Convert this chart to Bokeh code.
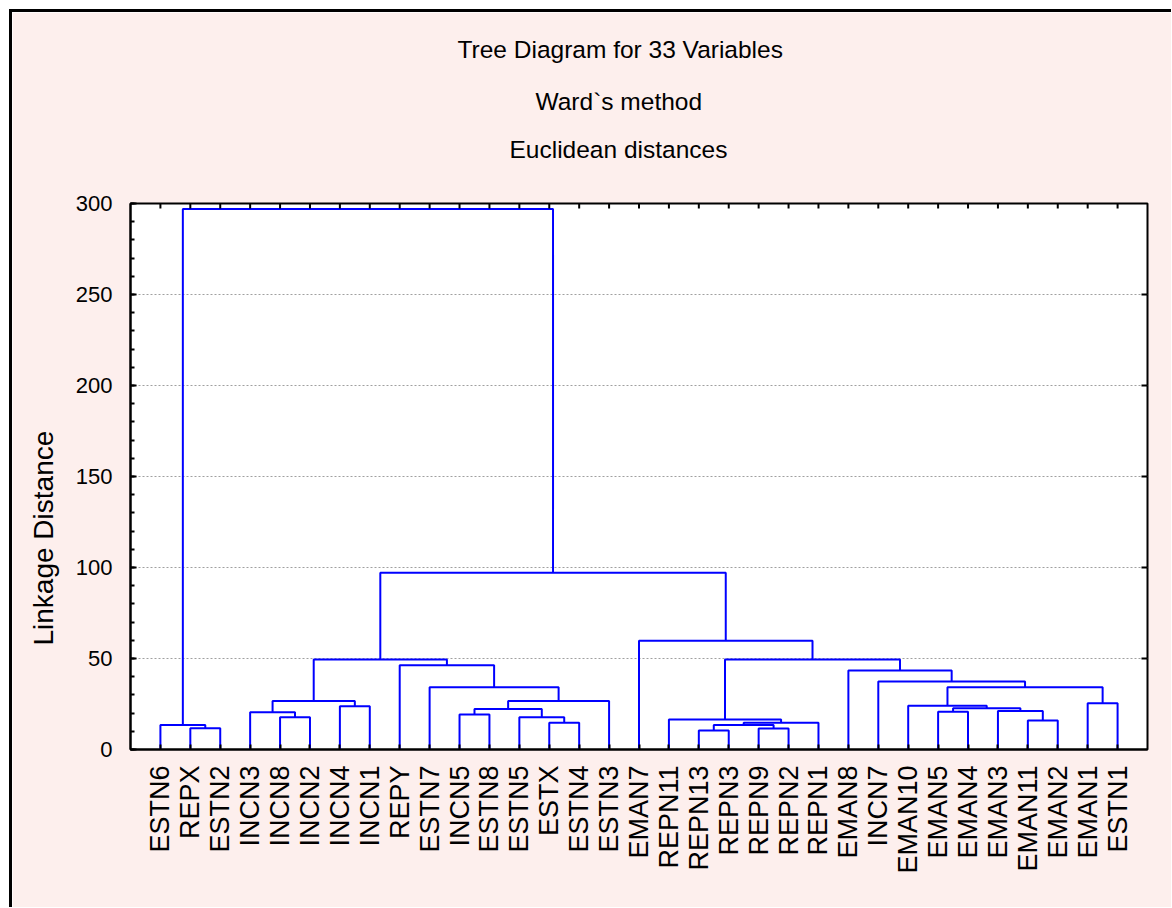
import math
from bokeh.plotting import figure
from bokeh.models import FixedTicker, SingleIntervalTicker, Title, Range1d, ColumnDataSource
from bokeh.embed import file_html
from bokeh.resources import INLINE

# ---------------- data ----------------
leaves = ["ESTN6", "REPX", "ESTN2", "INCN3", "INCN8", "INCN2", "INCN4", "INCN1",
          "REPY", "ESTN7", "INCN5", "ESTN8", "ESTN5", "ESTX", "ESTN4", "ESTN3",
          "EMAN7", "REPN11", "REPN13", "REPN3", "REPN9", "REPN2", "REPN1", "EMAN8",
          "INCN7", "EMAN10", "EMAN5", "EMAN4", "EMAN3", "EMAN11", "EMAN2", "EMAN1", "ESTN1"]

# merge k creates cluster "C{k+1}"
merge_a = ["REPX", "ESTN6", "INCN8", "INCN3", "INCN4", "C4", "ESTX", "ESTN5", "INCN5", "C9",
           "C10", "ESTN7", "REPY", "C6", "REPN13", "REPN9", "C15", "C17", "REPN11", "EMAN11",
           "EMAN3", "EMAN5", "C22", "EMAN10", "EMAN1", "C24", "INCN7", "EMAN8", "C19", "EMAN7",
           "C14", "C2"]
merge_b = ["ESTN2", "C1", "INCN2", "C3", "INCN1", "C5", "ESTN4", "C7", "ESTN8", "C8",
           "ESTN3", "C11", "C12", "C13", "REPN3", "REPN2", "C16", "REPN1", "C18", "EMAN2",
           "C20", "EMAN4", "C21", "C23", "ESTN1", "C25", "C26", "C27", "C28", "C29",
           "C30", "C31"]
merge_height = [11.7, 13.4, 17.7, 20.5, 23.8, 26.7, 14.7, 17.7, 19.2, 22.2,
                26.7, 34.2, 46.3, 49.5, 10.4, 11.5, 13.5, 14.7, 16.5, 15.9,
                21.1, 20.7, 22.6, 24.1, 25.4, 34.2, 37.4, 43.4, 49.5, 59.7,
                97.1, 297.0]

title_lines = ["Tree Diagram for 33 Variables", "Ward`s method", "Euclidean distances"]
y_label = "Linkage Distance"
y_max = 300
y_major_step = 50
y_grid_values = [50, 100, 150, 200, 250]

# ---------------- build dendrogram links ----------------
pos = {name: i + 1 for i, name in enumerate(leaves)}
hgt = {name: 0.0 for name in leaves}
xs, ys = [], []
for k, (a, b, h) in enumerate(zip(merge_a, merge_b, merge_height)):
    xa_, xb_ = pos[a], pos[b]
    xs.append([xa_, xa_, xb_, xb_])
    ys.append([hgt[a], h, h, hgt[b]])
    cid = "C%d" % (k + 1)
    pos[cid] = (xa_ + xb_) / 2.0
    hgt[cid] = h
src = ColumnDataSource(dict(xs=xs, ys=ys))

FONT = "Liberation Sans"
PINK = "#fdefed"
x_end = len(leaves) + 1
leaf_ticks = list(range(1, len(leaves) + 1))

p = figure(frame_width=1017, frame_height=546,
           x_range=Range1d(0, x_end), y_range=Range1d(0, y_max),
           output_backend="svg", toolbar_location=None, title_location=None,
           min_border_left=118, min_border_right=24, min_border_top=191, min_border_bottom=158,
           border_fill_color=PINK, background_fill_color="white",
           outline_line_color="black", outline_line_width=2)
p.styles = {"margin-left": "9px", "margin-top": "9px",
            "border-left": "3px solid black", "border-top": "3px solid black"}

# grid
p.xgrid.visible = False
p.ygrid[0].ticker = FixedTicker(ticks=y_grid_values)
p.ygrid[0].grid_line_color = "#a0a0a0"
p.ygrid[0].grid_line_dash = "2 2"
p.ygrid[0].grid_line_width = 1

p.multi_line(xs="xs", ys="ys", source=src, line_color="#0000ff", line_width=2)

# inward tick marks on the top and right frame edges
p.scatter(x=leaf_ticks, y=[y_max] * len(leaf_ticks), marker="dash", angle=math.pi / 2,
          size=10, line_color="black", line_width=2)
p.scatter(x=[x_end] * len(y_grid_values), y=y_grid_values, marker="dash",
          size=12, line_color="black", line_width=2)

# bottom axis
xa = p.xaxis[0]
xa.ticker = FixedTicker(ticks=leaf_ticks, minor_ticks=[])
xa.major_label_overrides = {i + 1: n for i, n in enumerate(leaves)}
xa.major_label_orientation = math.pi / 2
xa.major_label_text_font = FONT
xa.major_label_text_font_size = "27px"
xa.major_label_text_color = "black"
xa.major_label_standoff = 16
xa.major_tick_in = 5
xa.major_tick_out = 0
xa.axis_line_width = 2
xa.axis_line_color = "black"
xa.major_tick_line_width = 2

# left axis
ya = p.yaxis[0]
ya.ticker = SingleIntervalTicker(interval=y_major_step, num_minor_ticks=5)
ya.major_label_text_font = FONT
ya.major_label_text_font_size = "22px"
ya.major_label_text_color = "black"
ya.major_label_standoff = 18
ya.major_tick_in = 6
ya.major_tick_out = 0
ya.minor_tick_in = 4
ya.minor_tick_out = 0
ya.major_tick_line_width = 2
ya.minor_tick_line_width = 2
ya.axis_line_width = 2

# y axis title (placed lower than centre, as in the reference)
p.add_layout(Title(text=y_label, align="left", offset=104, text_font=FONT,
                   text_font_size="28px", text_font_style="normal", text_color="black",
                   standoff=27), "left")

# blank gap between the frame and the titles
p.add_layout(Title(text=" ", text_font=FONT, text_font_size="10px", standoff=13), "above")

# chart titles (closest to the plot first)
standoffs = [29, 10, 36]
offsets = [379, 405, 327]
for txt, so, off in zip(reversed(title_lines), standoffs, offsets):
    p.add_layout(Title(text=txt, align="left", offset=off, text_font=FONT, text_font_size="24.5px",
                       text_font_style="normal", text_color="black", standoff=so),
                 "above")

open("out.html", "w").write(file_html(p, INLINE))
